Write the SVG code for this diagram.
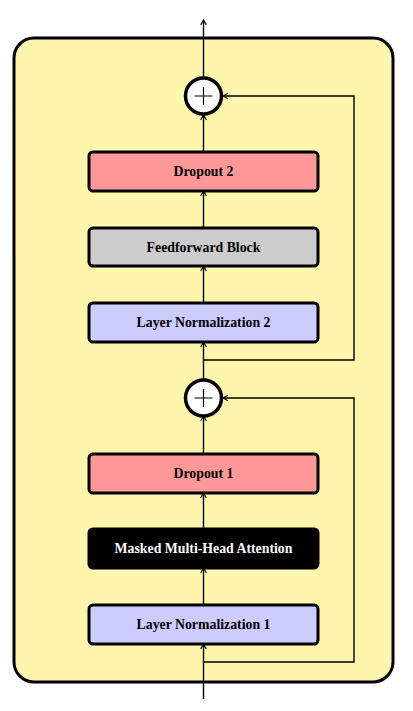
<svg xmlns="http://www.w3.org/2000/svg" width="413" height="711" viewBox="0 0 413 711">
<style>
.box{stroke:#000;stroke-width:3}
.lbl{font-family:"Liberation Serif","DejaVu Serif",serif;font-weight:bold;font-size:13.8px;text-anchor:middle;dominant-baseline:central}
.ln{fill:none;stroke:#000;stroke-width:1.4}
.sum{fill:#fff;stroke:#000;stroke-width:3.5}
</style>
<defs>
<marker id="ah" viewBox="0 0 10 10" refX="9" refY="5" markerWidth="7" markerHeight="7" markerUnits="userSpaceOnUse" orient="auto">
<path d="M2,1 L9,5 L2,9" fill="none" stroke="#000" stroke-width="1.6"/>
</marker>
</defs>
<rect x="14" y="38" width="379" height="644" rx="20" fill="#FFF6AD" stroke="#000" stroke-width="3"/>
<g id="connectors">
<line class="ln" x1="203.5" y1="78" x2="203.5" y2="20" marker-end="url(#ah)"/>
<line class="ln" x1="203.5" y1="152" x2="203.5" y2="115" marker-end="url(#ah)"/>
<line class="ln" x1="203.5" y1="228" x2="203.5" y2="191" marker-end="url(#ah)"/>
<line class="ln" x1="203.5" y1="303" x2="203.5" y2="266" marker-end="url(#ah)"/>
<line class="ln" x1="203.5" y1="380" x2="203.5" y2="342" marker-end="url(#ah)"/>
<line class="ln" x1="203.5" y1="453" x2="203.5" y2="416" marker-end="url(#ah)"/>
<line class="ln" x1="203.5" y1="528" x2="203.5" y2="493" marker-end="url(#ah)"/>
<line class="ln" x1="203.5" y1="605" x2="203.5" y2="568" marker-end="url(#ah)"/>
<line class="ln" x1="203.5" y1="699" x2="203.5" y2="644" marker-end="url(#ah)"/>
<polyline class="ln" points="203.5,360 354,360 354,96 223,96" marker-end="url(#ah)"/>
<polyline class="ln" points="203.5,662 354,662 354,398 223,398" marker-end="url(#ah)"/>
</g>
<g id="add2"><circle class="sum" cx="203.5" cy="96" r="18"/><path d="M194.5,96 H212.5 M203.5,87 V105" stroke="#000" stroke-width="1.2"/></g>
<g id="dropout2"><rect class="box" x="89" y="152" width="229" height="39" rx="4" fill="#FF9999"/><text class="lbl" x="203.5" y="171.5">Dropout 2</text></g>
<g id="feedforward"><rect class="box" x="89" y="228" width="229" height="38" rx="4" fill="#CCCCCC"/><text class="lbl" x="203.5" y="247">Feedforward Block</text></g>
<g id="layernorm2"><rect class="box" x="89" y="303" width="229" height="39" rx="4" fill="#CCCCFF"/><text class="lbl" x="203.5" y="322.5">Layer Normalization 2</text></g>
<g id="add1"><circle class="sum" cx="203.5" cy="398" r="18"/><path d="M194.5,398 H212.5 M203.5,389 V407" stroke="#000" stroke-width="1.2"/></g>
<g id="dropout1"><rect class="box" x="89" y="454" width="229" height="39" rx="4" fill="#FF9999"/><text class="lbl" x="203.5" y="473.5">Dropout 1</text></g>
<g id="mha"><rect class="box" x="89" y="529" width="229" height="39" rx="4" fill="#000"/><text class="lbl" x="203.5" y="548.5" fill="#fff">Masked Multi-Head Attention</text></g>
<g id="layernorm1"><rect class="box" x="89" y="605" width="229" height="39" rx="4" fill="#CCCCFF"/><text class="lbl" x="203.5" y="624.5">Layer Normalization 1</text></g>
</svg>
